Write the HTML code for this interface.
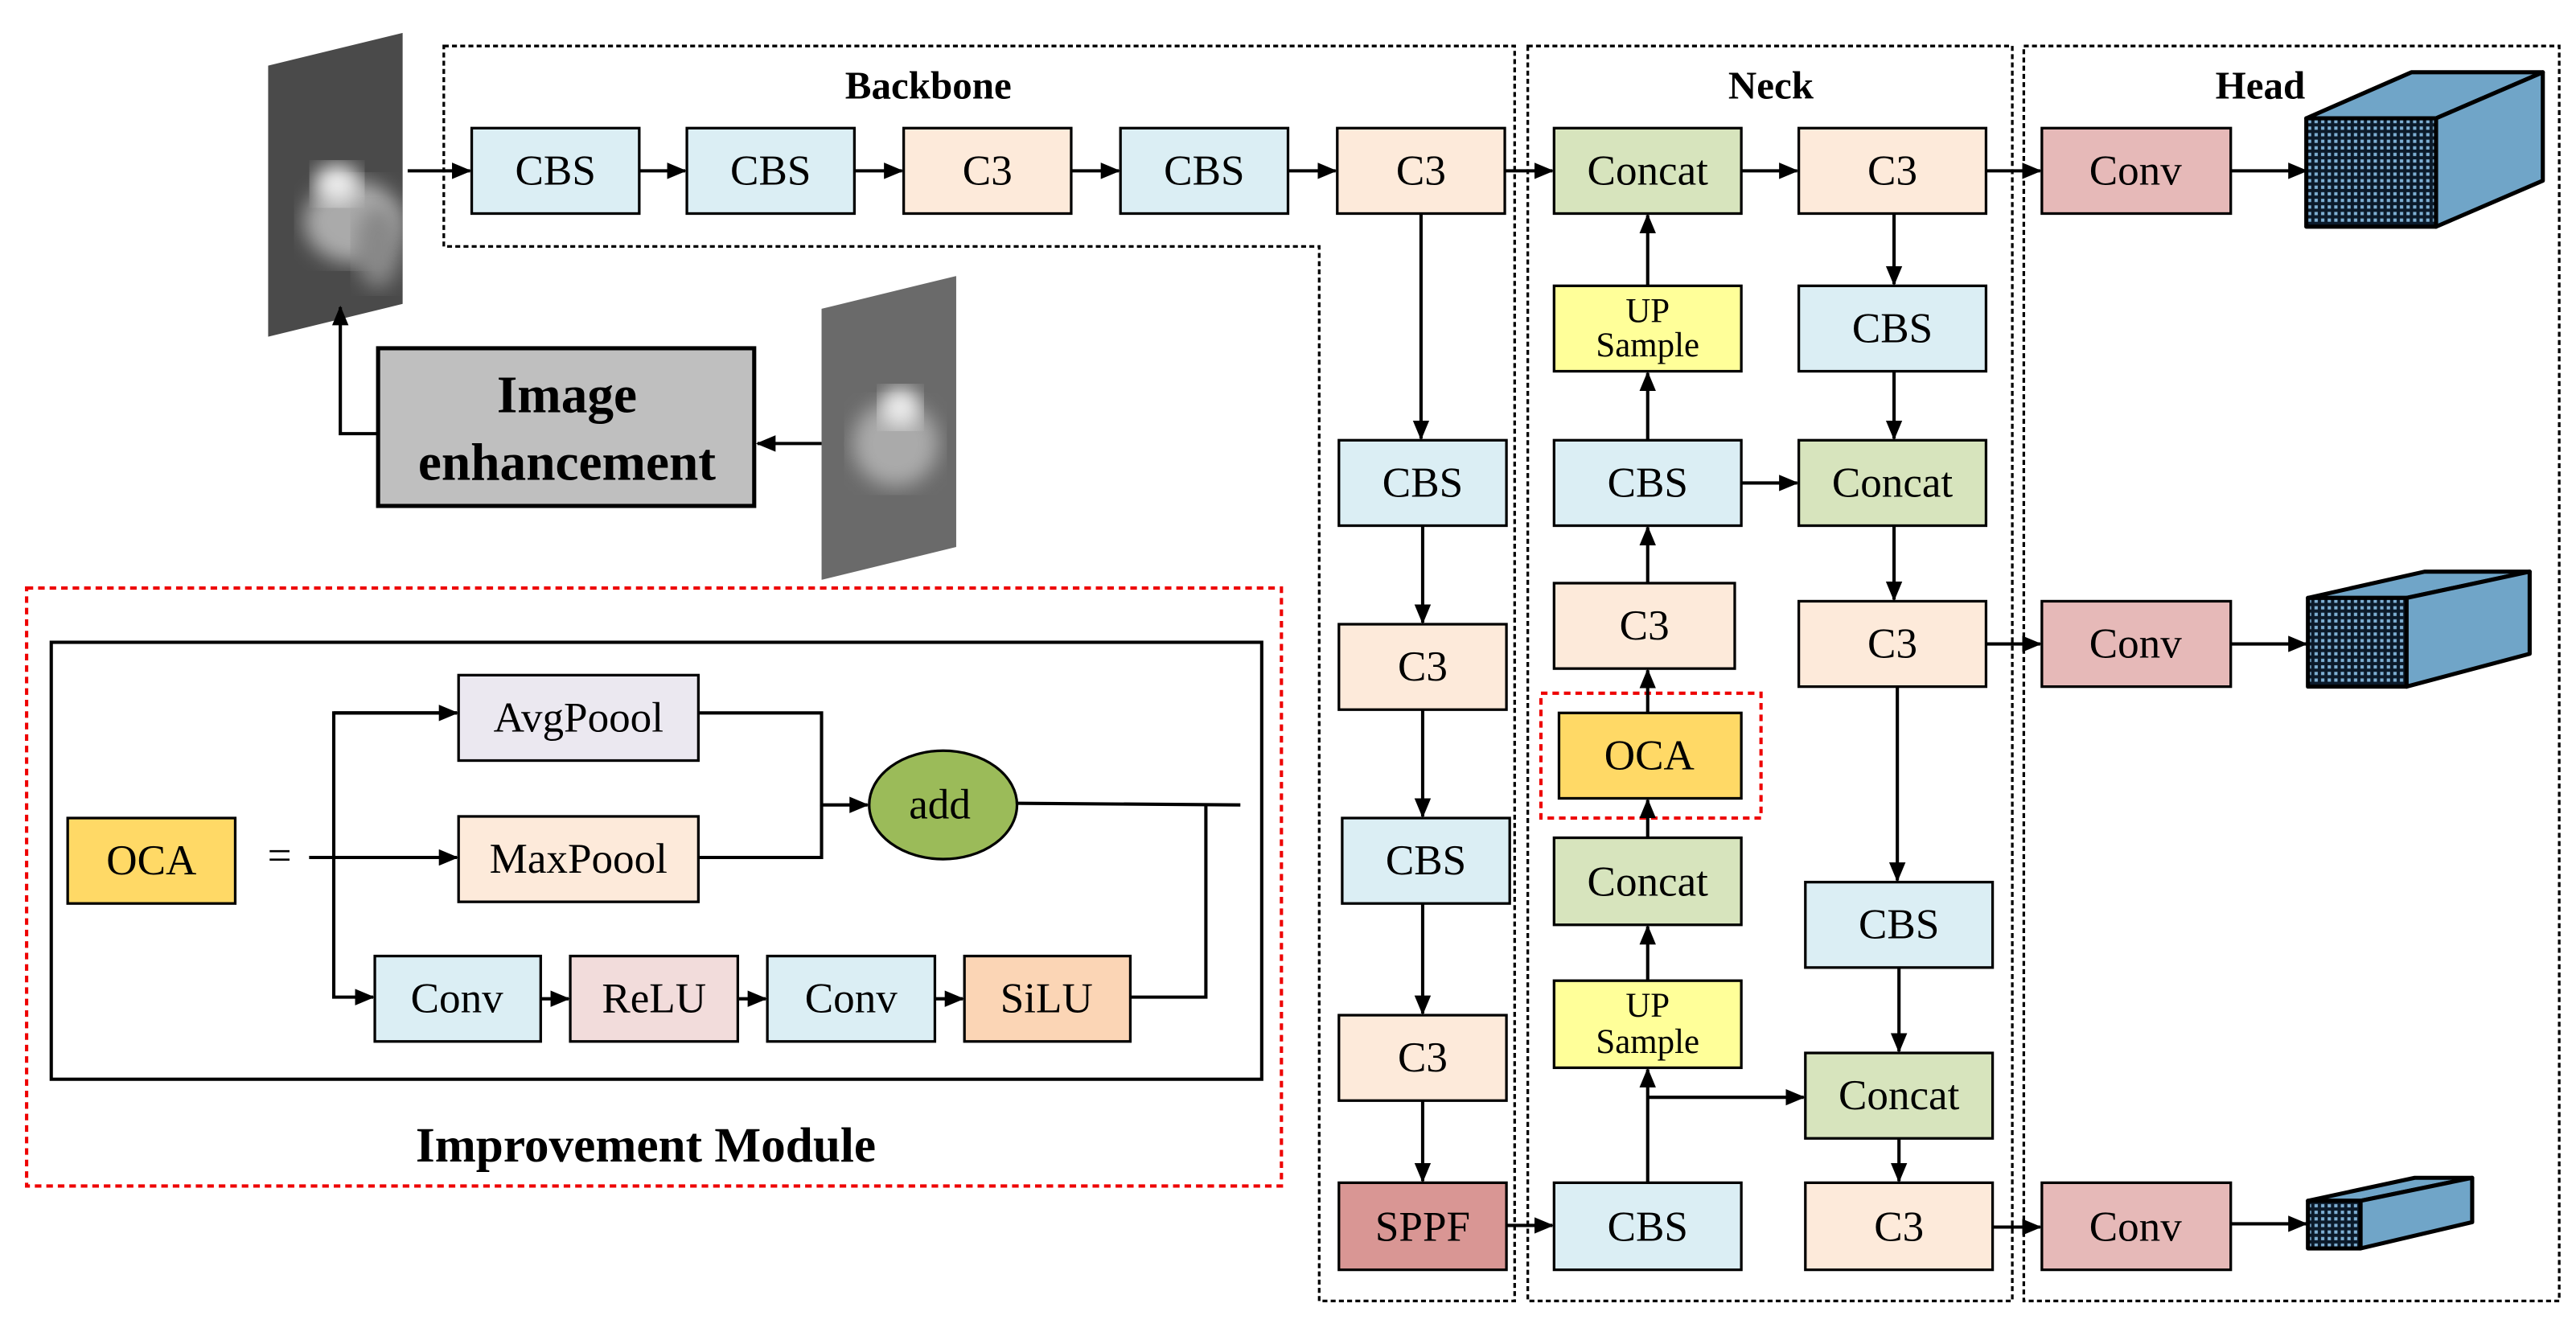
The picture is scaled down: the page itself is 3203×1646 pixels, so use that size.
<!DOCTYPE html>
<html><head><meta charset="utf-8"><style>
html,body{margin:0;padding:0;background:#fff;}
svg{display:block;}
text{font-family:"Liberation Serif",serif;}
</style></head><body>
<svg width="3203" height="1646" viewBox="0 0 1568 806" xmlns="http://www.w3.org/2000/svg">
<defs>
<marker id="a" markerWidth="12" markerHeight="10" refX="11" refY="5" orient="auto" markerUnits="userSpaceOnUse"><path d="M0,0 L12,5 L0,10 z" fill="#000"/></marker>
<pattern id="g" width="4" height="4" patternUnits="userSpaceOnUse"><rect width="4" height="4" fill="#0b1a2a"/><rect x="1" y="1" width="2" height="2" fill="#7fb0d4"/></pattern>
<filter id="bl"><feGaussianBlur stdDeviation="6"/></filter>
<clipPath id="p1"><polygon points="163,40 245,20 245,185 163,205"/></clipPath>
<clipPath id="p2"><polygon points="500,188 582,168 582,333 500,353"/></clipPath>
</defs>
<style>
.b{stroke:#000;stroke-width:1.6}
.t{font-size:26px;text-anchor:middle;dominant-baseline:central}
.s{font-size:21px;text-anchor:middle}
.l{stroke:#000;stroke-width:2;fill:none}
</style>
<polygon points="270,28 922,28 922,792 803,792 803,150 270,150" fill="none" stroke="#000" stroke-width="1.6" stroke-dasharray="3,2"/>
<rect x="930" y="28" width="295" height="764" fill="none" stroke="#000" stroke-width="1.6" stroke-dasharray="3,2"/>
<rect x="1232" y="28" width="326" height="764" fill="none" stroke="#000" stroke-width="1.6" stroke-dasharray="3,2"/>
<text x="565" y="60" font-size="24" font-weight="bold" text-anchor="middle">Backbone</text>
<text x="1078" y="60" font-size="24" font-weight="bold" text-anchor="middle">Neck</text>
<text x="1376" y="60" font-size="24" font-weight="bold" text-anchor="middle">Head</text>

<g clip-path="url(#p1)"><rect x="160" y="15" width="90" height="195" fill="#4a4a4a"/>
<ellipse cx="215" cy="135" rx="30" ry="25" fill="#aaa" filter="url(#bl)"/><ellipse cx="205" cy="112" rx="14" ry="12" fill="#eee" filter="url(#bl)"/><ellipse cx="230" cy="150" rx="14" ry="25" fill="#888" filter="url(#bl)"/></g>
<g clip-path="url(#p2)"><rect x="495" y="160" width="95" height="200" fill="#6a6a6a"/>
<ellipse cx="545" cy="270" rx="26" ry="26" fill="#aaa" filter="url(#bl)"/><ellipse cx="548" cy="248" rx="12" ry="12" fill="#eee" filter="url(#bl)"/></g>

<rect x="230" y="212" width="229" height="96" fill="#bfbfbf" stroke="#000" stroke-width="2.5"/>
<text x="345" y="251" font-size="32" font-weight="bold" text-anchor="middle">Image</text>
<text x="345" y="292" font-size="32" font-weight="bold" text-anchor="middle">enhancement</text>
<line x1="500" y1="270" x2="461" y2="270" class="l" marker-end="url(#a)"/>
<polyline points="230,264 207,264 207,187" class="l" marker-end="url(#a)"/>
<line x1="248" y1="104" x2="286" y2="104" class="l" marker-end="url(#a)"/>

<g class="b">
<rect x="287" y="78" width="102" height="52" fill="#dbeef4"/>
<rect x="418" y="78" width="102" height="52" fill="#dbeef4"/>
<rect x="550" y="78" width="102" height="52" fill="#fdeada"/>
<rect x="682" y="78" width="102" height="52" fill="#dbeef4"/>
<rect x="814" y="78" width="102" height="52" fill="#fdeada"/>
<rect x="815" y="268" width="102" height="52" fill="#dbeef4"/>
<rect x="815" y="380" width="102" height="52" fill="#fdeada"/>
<rect x="817" y="498" width="102" height="52" fill="#dbeef4"/>
<rect x="815" y="618" width="102" height="52" fill="#fdeada"/>
<rect x="815" y="720" width="102" height="53" fill="#d99694"/>
<rect x="946" y="78" width="114" height="52" fill="#d7e4bd"/>
<rect x="946" y="174" width="114" height="52" fill="#ffff99"/>
<rect x="946" y="268" width="114" height="52" fill="#dbeef4"/>
<rect x="946" y="355" width="110" height="52" fill="#fdeada"/>
<rect x="949" y="434" width="111" height="52" fill="#ffd966"/>
<rect x="946" y="510" width="114" height="53" fill="#d7e4bd"/>
<rect x="946" y="597" width="114" height="53" fill="#ffff99"/>
<rect x="946" y="720" width="114" height="53" fill="#dbeef4"/>
<rect x="1095" y="78" width="114" height="52" fill="#fdeada"/>
<rect x="1095" y="174" width="114" height="52" fill="#dbeef4"/>
<rect x="1095" y="268" width="114" height="52" fill="#d7e4bd"/>
<rect x="1095" y="366" width="114" height="52" fill="#fdeada"/>
<rect x="1099" y="537" width="114" height="52" fill="#dbeef4"/>
<rect x="1099" y="641" width="114" height="52" fill="#d7e4bd"/>
<rect x="1099" y="720" width="114" height="53" fill="#fdeada"/>
<rect x="1243" y="78" width="115" height="52" fill="#e6b9b8"/>
<rect x="1243" y="366" width="115" height="52" fill="#e6b9b8"/>
<rect x="1243" y="720" width="115" height="53" fill="#e6b9b8"/>
</g>
<rect x="938" y="422" width="134" height="76" fill="none" stroke="#e00" stroke-width="2" stroke-dasharray="4,3"/>

<g class="t">
<text x="338" y="104">CBS</text><text x="469" y="104">CBS</text><text x="601" y="104">C3</text><text x="733" y="104">CBS</text><text x="865" y="104">C3</text>
<text x="866" y="294">CBS</text><text x="866" y="406">C3</text><text x="868" y="524">CBS</text><text x="866" y="644">C3</text><text x="866" y="747">SPPF</text>
<text x="1003" y="104">Concat</text><text x="1003" y="294">CBS</text><text x="1001" y="381">C3</text><text x="1004" y="460">OCA</text><text x="1003" y="537">Concat</text><text x="1003" y="747">CBS</text>
<text x="1152" y="104">C3</text><text x="1152" y="200">CBS</text><text x="1152" y="294">Concat</text><text x="1152" y="392">C3</text><text x="1156" y="563">CBS</text><text x="1156" y="667">Concat</text><text x="1156" y="747">C3</text>
<text x="1300" y="104">Conv</text><text x="1300" y="392">Conv</text><text x="1300" y="747">Conv</text>
</g>
<text x="1003" y="196" class="s">UP</text><text x="1003" y="217" class="s">Sample</text>
<text x="1003" y="619" class="s">UP</text><text x="1003" y="641" class="s">Sample</text>

<g class="l">
<line x1="389" y1="104" x2="417" y2="104" marker-end="url(#a)"/>
<line x1="520" y1="104" x2="549" y2="104" marker-end="url(#a)"/>
<line x1="652" y1="104" x2="681" y2="104" marker-end="url(#a)"/>
<line x1="784" y1="104" x2="813" y2="104" marker-end="url(#a)"/>
<line x1="916" y1="104" x2="945" y2="104" marker-end="url(#a)"/>
<line x1="865" y1="130" x2="865" y2="267" marker-end="url(#a)"/>
<line x1="866" y1="320" x2="866" y2="379" marker-end="url(#a)"/>
<line x1="866" y1="432" x2="866" y2="497" marker-end="url(#a)"/>
<line x1="866" y1="550" x2="866" y2="617" marker-end="url(#a)"/>
<line x1="866" y1="670" x2="866" y2="719" marker-end="url(#a)"/>
<line x1="917" y1="746" x2="945" y2="746" marker-end="url(#a)"/>
<line x1="1003" y1="720" x2="1003" y2="651" marker-end="url(#a)"/>
<polyline points="1003,668 1098,668" marker-end="url(#a)"/>
<line x1="1003" y1="597" x2="1003" y2="564" marker-end="url(#a)"/>
<line x1="1003" y1="510" x2="1003" y2="487" marker-end="url(#a)"/>
<line x1="1003" y1="434" x2="1003" y2="408" marker-end="url(#a)"/>
<line x1="1003" y1="355" x2="1003" y2="321" marker-end="url(#a)"/>
<line x1="1003" y1="268" x2="1003" y2="227" marker-end="url(#a)"/>
<line x1="1003" y1="174" x2="1003" y2="131" marker-end="url(#a)"/>
<line x1="1060" y1="294" x2="1094" y2="294" marker-end="url(#a)"/>
<line x1="1060" y1="104" x2="1094" y2="104" marker-end="url(#a)"/>
<line x1="1153" y1="130" x2="1153" y2="173" marker-end="url(#a)"/>
<line x1="1153" y1="226" x2="1153" y2="267" marker-end="url(#a)"/>
<line x1="1153" y1="320" x2="1153" y2="365" marker-end="url(#a)"/>
<line x1="1155" y1="418" x2="1155" y2="536" marker-end="url(#a)"/>
<line x1="1156" y1="589" x2="1156" y2="640" marker-end="url(#a)"/>
<line x1="1156" y1="693" x2="1156" y2="719" marker-end="url(#a)"/>
<line x1="1209" y1="104" x2="1242" y2="104" marker-end="url(#a)"/>
<line x1="1209" y1="392" x2="1242" y2="392" marker-end="url(#a)"/>
<line x1="1213" y1="747" x2="1242" y2="747" marker-end="url(#a)"/>
<line x1="1358" y1="104" x2="1404" y2="104" marker-end="url(#a)"/>
<line x1="1358" y1="392" x2="1404" y2="392" marker-end="url(#a)"/>
<line x1="1358" y1="745" x2="1404" y2="745" marker-end="url(#a)"/>
</g>

<g stroke="#000" stroke-width="2.5" stroke-linejoin="round">
<polygon points="1404,72 1468,44 1548,44 1483,72" fill="#70a5c8"/>
<polygon points="1483,72 1548,44 1548,110 1483,138" fill="#70a5c8"/>
<rect x="1404" y="72" width="79" height="66" fill="url(#g)"/>
<polygon points="1405,364 1476,348 1540,348 1465,364" fill="#70a5c8"/>
<polygon points="1465,364 1540,348 1540,398 1465,418" fill="#70a5c8"/>
<rect x="1405" y="364" width="60" height="54" fill="url(#g)"/>
<polygon points="1405,731 1470,717 1505,717 1437,731" fill="#70a5c8"/>
<polygon points="1437,731 1505,717 1505,744 1437,760" fill="#70a5c8"/>
<rect x="1405" y="731" width="32" height="29" fill="url(#g)"/>
</g>

<rect x="16" y="358" width="764" height="364" fill="none" stroke="#e00" stroke-width="2" stroke-dasharray="4,3"/>
<rect x="31" y="391" width="737" height="266" fill="none" stroke="#000" stroke-width="2"/>
<text x="393" y="707" font-size="30" font-weight="bold" text-anchor="middle">Improvement Module</text>
<g class="b">
<rect x="41" y="498" width="102" height="52" fill="#ffd966"/>
<rect x="279" y="411" width="146" height="52" fill="#ebe8f0"/>
<rect x="279" y="497" width="146" height="52" fill="#fdeada"/>
<rect x="228" y="582" width="101" height="52" fill="#dbeef4"/>
<rect x="347" y="582" width="102" height="52" fill="#f2dcdb"/>
<rect x="467" y="582" width="102" height="52" fill="#dbeef4"/>
<rect x="587" y="582" width="101" height="52" fill="#fbd5b5"/>
<ellipse cx="574" cy="490" rx="45" ry="33" fill="#9bbb59"/>
</g>
<g class="t">
<text x="92" y="524">OCA</text><text x="170" y="521">=</text>
<text x="352" y="437">AvgPoool</text><text x="352" y="523">MaxPoool</text>
<text x="278" y="608">Conv</text><text x="398" y="608">ReLU</text><text x="518" y="608">Conv</text><text x="637" y="608">SiLU</text>
<text x="572" y="490">add</text>
</g>
<g class="l">
<line x1="188" y1="522" x2="278" y2="522" marker-end="url(#a)"/>
<polyline points="278,434 203,434 203,607 227,607" marker-end="url(#a)"/>
<line x1="203" y1="434" x2="278" y2="434" marker-end="url(#a)"/>
<polyline points="425,434 500,434 500,490 528,490" marker-end="url(#a)"/>
<polyline points="425,522 500,522 500,490"/>
<line x1="329" y1="608" x2="346" y2="608" marker-end="url(#a)"/>
<line x1="449" y1="608" x2="466" y2="608" marker-end="url(#a)"/>
<line x1="569" y1="608" x2="586" y2="608" marker-end="url(#a)"/>
<line x1="619" y1="489" x2="755" y2="490"/>
<polyline points="688,607 734,607 734,490"/>
</g>
</svg>
</body></html>
